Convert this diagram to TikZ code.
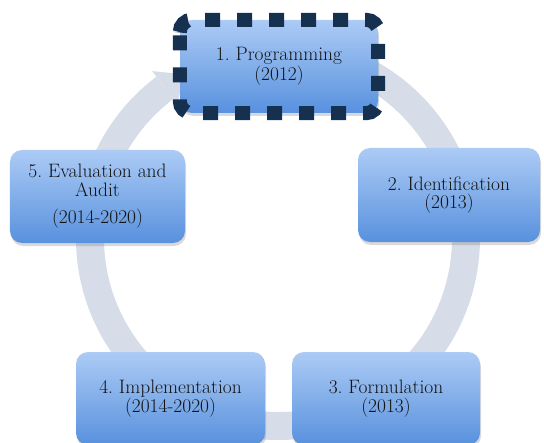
\documentclass[tikz,border=0pt]{standalone}
\usetikzlibrary{shadows,calc}
\definecolor{boxtop}{RGB}{172,203,245}
\definecolor{boxbot}{RGB}{88,145,222}
\definecolor{ringc}{RGB}{214,220,232}
\definecolor{navy}{RGB}{22,48,80}
\definecolor{txt}{RGB}{20,20,20}
\frenchspacing
\begin{document}
\begin{tikzpicture}[x=1bp,y=-1bp,
  box/.style={rectangle, rounded corners=12bp, top color=boxtop, bottom color=boxbot,
    align=center, inner sep=0pt, font=\fontsize{19.5}{18.5}\selectfont, text=txt,
    drop shadow={shadow xshift=1bp, shadow yshift=-3bp, opacity=0.3}},
  ring/.style={draw=ringc, line width=28bp},
  dashedborder/.style={draw=navy, line width=14bp, dash pattern=on 15bp off 17bp, dash phase=20bp, rounded corners=12bp}]
\useasboundingbox (0,0) rectangle (544,443);
\coordinate (C) at (278,238);
\draw[ring] ($(C)+(-127:188)$) arc[start angle=-127,end angle=-470,radius=188];
\fill[ringc] ($(C)+(-127:209)$) -- ($(C)+(-120:189)$) -- ($(C)+(-127:167)$) -- cycle;
\node[box, minimum width=198bp, minimum height=93bp] (n1) at (279,66.5) {1. Programming\\(2012)};
\draw[dashedborder] ($(n1.north west)+(0,12)$) -- (n1.north west) -- (n1.north east) -- (n1.south east) -- (n1.south west) -- cycle;
\node[box, minimum width=182bp, minimum height=94bp] (n2) at (449,195) {2. Identification\\(2013)};
\node[box, minimum width=188bp, minimum height=93bp] (n3) at (386,398.5) {3. Formulation\\(2013)};
\node[box, minimum width=189bp, minimum height=93bp] (n4) at (170.5,398.5) {4. Implementation\\(2014-2020)};
\node[box, minimum width=175bp, minimum height=93bp] (n5) at (97.5,196.5) {5. Evaluation and\\Audit\\[9bp](2014-2020)};
\end{tikzpicture}
\end{document}
